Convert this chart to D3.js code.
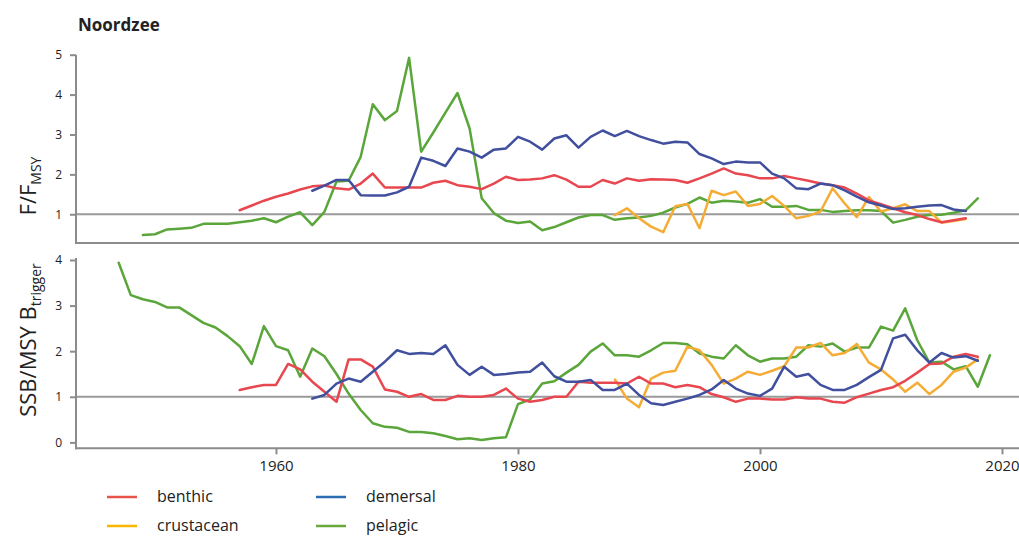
<!DOCTYPE html>
<html><head><meta charset="utf-8">
<script src="https://cdn.jsdelivr.net/npm/d3@7"></script>
<style>
body{margin:0;background:#fff;}
svg text{font-family:"Open Sans","Noto Sans",sans-serif;fill:#222;}
</style></head>
<body><svg id="c" width="1019" height="536"></svg>
<script>
// ---- data ----
const seriesNames = ["benthic","crustacean","demersal","pelagic"];
const lineColors = {benthic:"#e8474f", crustacean:"#f5ac35", demersal:"#404f9e", pelagic:"#5aa63b"};
const legendColors = {benthic:"#e8534a", crustacean:"#f7b500", demersal:"#2a6db2", pelagic:"#6aaa3a"};
const xTicks = [1960,1980,2000,2020];
const fTicks = [1,2,3,4,5];
const sTicks = [0,1,2,3,4];

// F/FMSY
const benthicFStart = 1957;
const benthicF = [1.1,1.22,1.34,1.44,1.52,1.62,1.7,1.72,1.65,1.62,1.77,2.02,1.67,1.67,1.67,1.67,1.79,1.84,1.73,1.69,1.63,1.77,1.94,1.86,1.87,1.9,1.98,1.87,1.69,1.69,1.86,1.77,1.9,1.84,1.88,1.87,1.86,1.79,1.9,2.02,2.15,2.02,1.98,1.9,1.9,1.96,1.9,1.84,1.77,1.73,1.67,1.52,1.35,1.25,1.15,1.05,0.98,0.88,0.8,0.85,0.9];
const demersalFStart = 1963;
const demersalF = [1.59,1.72,1.86,1.86,1.48,1.47,1.47,1.55,1.69,2.42,2.34,2.21,2.65,2.57,2.42,2.62,2.65,2.94,2.82,2.62,2.9,2.98,2.67,2.94,3.1,2.96,3.09,2.96,2.86,2.77,2.82,2.8,2.51,2.4,2.26,2.32,2.3,2.3,2.02,1.9,1.65,1.63,1.77,1.73,1.6,1.44,1.3,1.22,1.13,1.15,1.19,1.22,1.23,1.12,1.08];
const crustaceanFStart = 1988;
const crustaceanF = [0.98,1.15,0.9,0.69,0.55,1.2,1.26,0.65,1.59,1.48,1.57,1.21,1.26,1.46,1.21,0.9,0.96,1.07,1.65,1.27,0.93,1.43,1.07,1.15,1.25,1.08,1.08,0.79,0.83,0.88];
const pelagicFStart = 1949;
const pelagicF = [0.48,0.5,0.62,0.64,0.66,0.76,0.76,0.76,0.8,0.84,0.9,0.8,0.94,1.05,0.73,1.06,1.82,1.84,2.44,3.76,3.36,3.59,4.92,2.57,3.05,3.55,4.04,3.15,1.4,1.03,0.84,0.78,0.82,0.6,0.68,0.8,0.92,0.98,0.98,0.86,0.9,0.92,0.96,1.04,1.17,1.26,1.42,1.29,1.34,1.32,1.29,1.38,1.19,1.19,1.21,1.11,1.11,1.06,1.08,1.1,1.1,1.08,0.79,0.86,0.94,0.98,0.99,1.04,1.1,1.4];

// SSB/MSY Btrigger
const benthicSStart = 1957;
const benthicS = [1.15,1.21,1.26,1.26,1.72,1.6,1.33,1.11,0.89,1.82,1.82,1.66,1.16,1.11,1.0,1.06,0.93,0.93,1.02,1.0,1.0,1.04,1.18,0.96,0.89,0.93,1.0,1.0,1.33,1.31,1.31,1.31,1.29,1.44,1.29,1.29,1.21,1.26,1.21,1.06,0.99,0.89,0.96,0.96,0.94,0.94,0.99,0.96,0.96,0.89,0.87,0.99,1.07,1.15,1.21,1.35,1.53,1.72,1.73,1.88,1.94,1.88];
const demersalSStart = 1963;
const demersalS = [0.96,1.04,1.29,1.4,1.33,1.55,1.77,2.02,1.94,1.96,1.94,2.13,1.7,1.48,1.66,1.48,1.5,1.53,1.55,1.75,1.45,1.33,1.33,1.37,1.15,1.15,1.29,1.04,0.86,0.82,0.89,0.96,1.04,1.16,1.37,1.18,1.07,1.02,1.18,1.66,1.44,1.5,1.26,1.15,1.15,1.26,1.43,1.59,2.28,2.36,2.02,1.75,1.96,1.86,1.89,1.79];
const crustaceanSStart = 1988;
const crustaceanS = [1.38,0.96,0.77,1.4,1.53,1.57,2.1,2.02,1.7,1.29,1.4,1.55,1.48,1.57,1.67,2.08,2.08,2.18,1.91,1.96,2.16,1.75,1.6,1.38,1.11,1.31,1.06,1.26,1.55,1.64,1.82];
const pelagicSStart = 1947;
const pelagicS = [3.94,3.23,3.14,3.08,2.96,2.96,2.79,2.62,2.52,2.33,2.11,1.72,2.55,2.11,2.02,1.44,2.06,1.89,1.5,1.07,0.71,0.42,0.34,0.32,0.23,0.23,0.2,0.14,0.07,0.09,0.05,0.09,0.11,0.84,0.94,1.29,1.34,1.53,1.7,1.99,2.17,1.91,1.91,1.88,2.02,2.18,2.18,2.15,1.95,1.88,1.84,2.13,1.91,1.77,1.84,1.84,1.88,2.13,2.1,2.17,1.99,2.08,2.08,2.54,2.45,2.94,2.24,1.75,1.77,1.6,1.67,1.22,1.91];

// ---- build ----
const svg = d3.select("#c");
const axisColor = "#8c8c8c";
const x = d3.scaleLinear().domain([1960,2020]).range([276,1002]);
const yF = d3.scaleLinear().domain([0.28,5]).range([243,54.7]);
const yS = d3.scaleLinear().domain([-0.13,4]).range([448.3,260]);
const left = 76, right = 1019;

function toPts(start, vals){ return vals.map((v,i)=>({year:start+i, v})); }
const topData = {benthic:toPts(benthicFStart,benthicF), crustacean:toPts(crustaceanFStart,crustaceanF), demersal:toPts(demersalFStart,demersalF), pelagic:toPts(pelagicFStart,pelagicF)};
const botData = {benthic:toPts(benthicSStart,benthicS), crustacean:toPts(crustaceanSStart,crustaceanS), demersal:toPts(demersalSStart,demersalS), pelagic:toPts(pelagicSStart,pelagicS)};

// title
svg.append("text").attr("x",78).attr("y",31).attr("font-size",17).attr("font-weight","bold").text("Noordzee");

function panel(y, data, ticks, topY, bottomY, hasX){
  const g = svg.append("g");
  g.append("line").attr("x1",left).attr("x2",right).attr("y1",y(1)).attr("y2",y(1))
    .attr("stroke","#9a9a9a").attr("stroke-width",2);
  const ya = g.append("g").attr("transform",`translate(${left},0)`)
    .call(d3.axisLeft(y).tickValues(ticks).tickSize(6).tickPadding(8).tickFormat(d3.format("d")));
  ya.select(".domain").remove();
  ya.selectAll(".tick line").attr("stroke",axisColor).attr("stroke-width",2);
  ya.selectAll(".tick text").attr("font-size",12).attr("fill","#222").style("font-family","'Open Sans',sans-serif");
  g.append("line").attr("x1",left).attr("x2",left).attr("y1",topY).attr("y2",bottomY+1)
    .attr("stroke",axisColor).attr("stroke-width",2);
  if(hasX){
    const xa = g.append("g").attr("transform",`translate(0,${bottomY})`)
      .call(d3.axisBottom(x).tickValues(xTicks).tickSize(6).tickPadding(6).tickFormat(d3.format("d")));
    xa.select(".domain").remove();
    xa.selectAll(".tick line").attr("stroke",axisColor).attr("stroke-width",2);
    xa.selectAll(".tick text").attr("font-size",15).attr("fill","#222").style("font-family","'Open Sans',sans-serif");
  }
  g.append("line").attr("x1",left-1).attr("x2",right).attr("y1",bottomY).attr("y2",bottomY)
    .attr("stroke",axisColor).attr("stroke-width",2);
  const line = d3.line().x(d=>x(d.year)).y(d=>y(d.v));
  ["pelagic","crustacean","benthic","demersal"].forEach(k=>{
    g.append("path").datum(data[k]).attr("d",line).attr("fill","none")
      .attr("stroke",lineColors[k]).attr("stroke-width",2.5)
      .attr("stroke-linejoin","round").attr("stroke-linecap","round");
  });
}
panel(yF, topData, fTicks, 55, 243, false);
panel(yS, botData, sTicks, 258, 448.3, true);

// y labels
const l1 = svg.append("text").attr("transform","translate(36,186) rotate(-90)")
  .attr("text-anchor","middle").attr("font-size",22);
l1.append("tspan").text("F/F");
l1.append("tspan").attr("font-size",14).attr("dy",5).text("MSY");
const l2 = svg.append("text").attr("transform","translate(36,340) rotate(-90)")
  .attr("text-anchor","middle").attr("font-size",22);
l2.append("tspan").text("SSB/MSY B");
l2.append("tspan").attr("font-size",14).attr("dy",5).text("trigger");

// legend
const legendItems = [
  {k:"benthic", lx:107, ly:497},
  {k:"demersal", lx:316, ly:497},
  {k:"crustacean", lx:107, ly:526},
  {k:"pelagic", lx:316, ly:526}
];
const lg = svg.append("g");
legendItems.forEach(it=>{
  lg.append("line").attr("x1",it.lx).attr("x2",it.lx+30).attr("y1",it.ly).attr("y2",it.ly)
    .attr("stroke",legendColors[it.k]).attr("stroke-width",2.5);
  lg.append("text").attr("x",it.lx+50).attr("y",it.ly+5).attr("font-size",16).text(it.k);
});
</script></body></html>
